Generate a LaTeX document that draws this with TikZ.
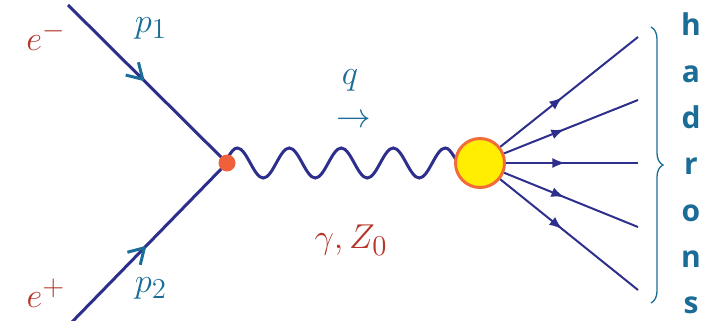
\documentclass[tikz,border=0pt]{standalone}
\usepackage{fontspec}
\newfontfamily\hadfont{Open Sans}
\usetikzlibrary{arrows.meta,decorations.pathmorphing,decorations.pathreplacing,decorations.markings}
\definecolor{navy}{HTML}{2E2E8C}
\definecolor{tealc}{HTML}{1B6C97}
\definecolor{redc}{HTML}{B5352A}
\definecolor{dotc}{HTML}{F0603A}
\definecolor{blobfill}{HTML}{FFEE00}
\definecolor{blobline}{HTML}{F26B3A}
\tikzset{
  fermion/.style={navy, line width=3pt, postaction={decorate, decoration={markings,
    mark=at position #1 with {\draw[tealc, line width=3pt, line join=round]
      (-15pt,9pt) -- (0pt,0pt) -- (-15pt,-9pt);}}}},
  hadron/.style={navy, line width=2pt, postaction={decorate, decoration={markings,
    mark=at position 0.45 with {\arrow[navy]{Latex[length=13pt,width=10pt]}}}}},
  photon/.style={navy, line width=3pt, decorate, decoration={snake, segment length=52pt, amplitude=15pt}},
  mlabel/.style={inner sep=0pt, scale=2, font=\fontsize{19}{23}\selectfont},
}
\begin{document}
\begin{tikzpicture}[x=1pt,y=-1pt]
\useasboundingbox (0,0) rectangle (709,321);
\coordinate (a1) at (68,5);
\coordinate (a2) at (71,323);
\coordinate (vc) at (227,163);
\coordinate (bc) at (480,163);
\draw[fermion=0.47] (a1) -- (vc);
\draw[fermion=0.47] (a2) -- (vc);
\draw[photon] ([xshift=-6pt]vc) -- ([xshift=3pt]bc);
\node[circle, fill=dotc, minimum size=17pt, inner sep=0pt] (v) at (vc) {};
\node[circle, fill=blobfill, draw=blobline, line width=3pt, minimum size=49pt, inner sep=0pt] (blob) at (bc) {};
\coordinate (h1) at (638,37);
\coordinate (h2) at (638,100);
\coordinate (h3) at (638,163);
\coordinate (h4) at (638,227);
\coordinate (h5) at (638,290);
\foreach \h in {h1,h2,h3,h4,h5} \draw[hadron] (blob) -- (\h);
\coordinate (br1) at (651,27);
\coordinate (br2) at (651,303);
\draw[tealc, line width=1.3pt, decorate, decoration={brace, amplitude=12pt}] (br1) -- (br2);
\node[mlabel, text=redc] (em) at (46,36) {$e^-$};
\node[mlabel, text=redc] (ep) at (46,293) {$e^+$};
\node[mlabel, text=tealc] (p1) at (151,28) {$p_1$};
\node[mlabel, text=tealc] (p2) at (151,288) {$p_2$};
\node[mlabel, text=tealc] (q) at (350,80) {$q$};
\node[mlabel, text=tealc] (qarr) at (354,121) {$\rightarrow$};
\node[mlabel, text=redc] (gz) at (351,240) {$\gamma, Z_0$};
\node[inner sep=0pt, anchor=north, text=tealc, align=center,
  font=\hadfont\bfseries\fontsize{30}{46.3}\selectfont] (had) at (691,13) {h\\a\\d\\r\\o\\n\\s};
\end{tikzpicture}
\end{document}
